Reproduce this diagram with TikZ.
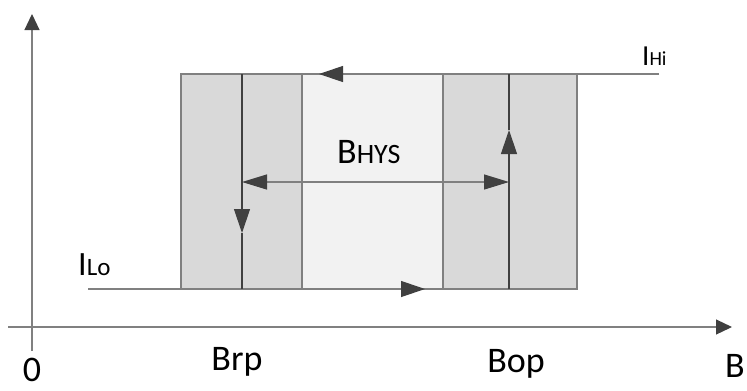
\documentclass[tikz,border=0pt]{standalone}
\usepackage{fontspec}
\setmainfont{Carlito}
\usetikzlibrary{arrows.meta}

\definecolor{bandgray}{HTML}{D9D9D9}
\definecolor{gapgray}{HTML}{F2F2F2}
\definecolor{edgegray}{HTML}{808080}
\definecolor{headgray}{HTML}{404040}

\tikzstyle{band}=[draw=edgegray,fill=bandgray,line width=1.2bp]
\tikzstyle{gap}=[draw=edgegray,fill=gapgray,line width=1.2bp]
\tikzstyle{axis}=[draw=edgegray,line width=1.2bp,-{Triangle[length=16bp,width=15bp,color=headgray]}]
\tikzstyle{trace}=[draw=edgegray,line width=1.2bp]
\tikzstyle{riser}=[draw=headgray,line width=1.2bp]
\tikzstyle{head}=[-{Triangle[length=24bp,width=16bp,color=headgray]}]
\tikzstyle{lbl}=[inner sep=0pt,anchor=base west,font=\fontsize{36bp}{38bp}\selectfont]

\newcommand{\subtxt}[1]{{\fontsize{25bp}{27bp}\selectfont #1}}

\begin{document}
\begin{tikzpicture}[x=1bp,y=-1bp]

   \useasboundingbox (0,0) rectangle (747,390);

   % Bands

   \fill[band] (181,74) coordinate(rptl) rectangle (302,289) coordinate(rpbr);
   \fill[gap] (302,74) coordinate(gaptl) rectangle (443,289) coordinate(gapbr);
   \fill[band] (443,74) coordinate(optl) rectangle (577,289) coordinate(opbr);

   % Axes

   \coordinate (xstart) at (8,327);
   \coordinate (xend) at (732,327);
   \coordinate (ystart) at (32,351);
   \coordinate (yend) at (32,14);
   \draw[axis] (xstart) -- (xend);
   \draw[axis] (ystart) -- (yend);

   % Switching loop

   \coordinate (hiend) at (659,74);
   \coordinate (loend) at (88,289);
   \coordinate (rpt) at (242,74);
   \coordinate (rpb) at (242,289);
   \coordinate (opt) at (509,74);
   \coordinate (opb) at (509,289);
   \coordinate (toptip) at (319,74);
   \coordinate (downtip) at (242,233);
   \coordinate (bottip) at (425,289);
   \coordinate (uptip) at (509,130);

   \draw[trace,head] (hiend) -- (toptip);
   \draw[trace] (toptip) -- (rpt);
   \draw[trace,head] (loend) -- (bottip);
   \draw[trace] (bottip) -- (opb);
   \draw[riser,head] (rpt) -- (downtip);
   \draw[riser] (downtip) -- (rpb);
   \draw[riser,head] (opb) -- (uptip);
   \draw[riser] (uptip) -- (opt);

   % Hysteresis width

   \coordinate (hysl) at (242,182);
   \coordinate (hysr) at (509,182);
   \draw[trace,{Triangle[length=25bp,width=15bp,color=headgray]}-{Triangle[length=25bp,width=15bp,color=headgray]}] (hysl) -- (hysr);

   % Labels

   \node[lbl] (bhys) at (337,163) {B{\fontsize{28bp}{30bp}\selectfont HYS}};
   \node[lbl] (ilo) at (78,275) {\fontsize{34bp}{36bp}\selectfont I\subtxt{Lo}};
   \node[lbl] (ihi) at (642,65) {\fontsize{29bp}{31bp}\selectfont I{\fontsize{20bp}{22bp}\selectfont Hi}};
   \node[lbl,anchor=base] (zero) at (32,381) {0};
   \node[lbl,anchor=base] (brp) at (237,370) {Brp};
   \node[lbl,anchor=base] (bop) at (516,372) {Bop};
   \node[lbl] (baxis) at (725,377) {B};

\end{tikzpicture}
\end{document}
